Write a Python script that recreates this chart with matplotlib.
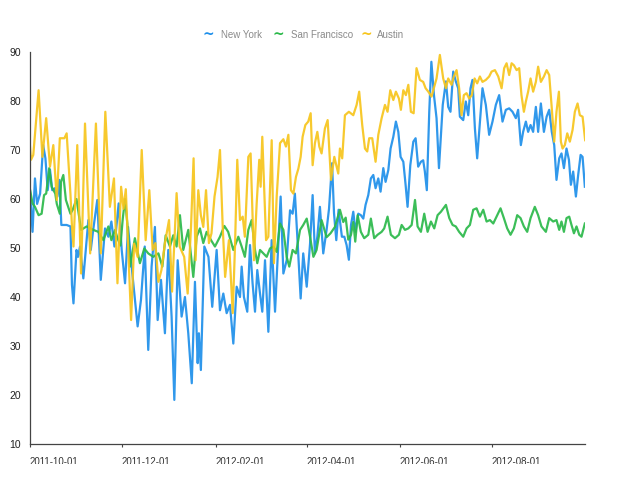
import matplotlib

matplotlib.use("Agg")

import matplotlib.pyplot as plt
import matplotlib.dates as mdates
import numpy as np
import pandas as pd
from matplotlib.transforms import Bbox, TransformedBbox, blended_transform_factory

# (days since 2011-10-01, temperature in F)
new_york = [
    (0, 63.2), (2, 53.3), (3.6, 64.2), (5, 59), (7, 61.1), (9, 71.0), (10.5, 68.3), (12, 61.8),
    (13.5, 66), (15, 61.8), (16.8, 62.2), (18.4, 60.5), (19.7, 63.9), (21, 54.7), (24.5, 54.7),
    (27, 54.4), (28, 42.5), (29, 38.7), (31, 49.6), (32, 48.2), (33.3, 50.3), (35.5, 43.8),
    (38.8, 55.7), (40.4, 49.6), (42, 53.7), (44.7, 59.8), (47, 43.5), (49.8, 54), (52, 52.3),
    (54, 55.4), (56, 50.3), (58.8, 59.1), (60.8, 49.6), (63, 42.8), (65, 54.3), (67.8, 44.8),
    (71.3, 34), (73.5, 39.4), (76, 50.3), (78.3, 29.2), (80.5, 46.2), (82.7, 54.3), (84.5, 35.3),
    (86.7, 43.5), (89.3, 32.6), (91.5, 49.6), (93.7, 36), (95.5, 19), (97.7, 47.5), (100.3, 36),
    (102.5, 40), (104.7, 32.6), (107, 22.4), (109.1, 43.1), (110.9, 26.5), (111.7, 32.6),
    (113, 25.1), (115.3, 50.3), (118, 48.2), (120.5, 38), (123.4, 49.6), (125.6, 37.3),
    (127.8, 40.7), (130, 36.7), (132.2, 38.4), (134.4, 30.5), (136.6, 42.1), (138.8, 40),
    (139.9, 46.2), (141.4, 40), (143.6, 37), (145.4, 50.6), (147.1, 42.8), (148.7, 37),
    (150.2, 45.5), (152, 40.7), (153.5, 37), (155.3, 47.5), (157.5, 32.9), (159.7, 51.6),
    (161.9, 37), (164.1, 50.9), (165.6, 60.5), (167.4, 44.8), (169.6, 47.5), (171.8, 57.7),
    (173.5, 57), (175, 61.1), (176.6, 52.3), (178.8, 39.7), (180.5, 48.9), (182.8, 42.1),
    (185, 50.9), (186.7, 60.8), (188.2, 48.9), (189.8, 52.3), (191.5, 58.4), (193.7, 48.9),
    (195.9, 53.7), (197.5, 58), (199.5, 67.3), (200.8, 57.1), (202.3, 51.6), (203.8, 57.8),
    (206, 52.3), (207.6, 52.3), (209.1, 50.6), (210.6, 47.6), (212, 54.7), (213.5, 57.4),
    (215, 53.3), (216.8, 57), (218.5, 56.7), (220.1, 56), (221.6, 58.8), (223.4, 60.8),
    (225.1, 64.2), (226.7, 64.9), (228.2, 62.2), (230, 64.2), (231.5, 61.5), (233.3, 66.3),
    (234.8, 63.5), (236.6, 65.9), (238.1, 70.3), (239.9, 72.7), (241.6, 75.8), (243.2, 73.7),
    (244.7, 68.6), (246.5, 67.6), (248, 62.9), (249.3, 58.4), (251.1, 66.9), (253.1, 71.7),
    (254.6, 72.4), (256.3, 66.6), (258.1, 67.6), (259.6, 67.9), (260.7, 65.6), (262, 61.8),
    (263.6, 77.8), (265, 88), (266.7, 81.2), (268.4, 76.5), (270, 66.3), (272.5, 79.2),
    (274.6, 84), (276.1, 78.8), (277.6, 77.8), (279.4, 86), (281.1, 84), (282.7, 82.6),
    (283.8, 76.8), (286, 76.1), (287.7, 79.9), (289.3, 77.1), (290.8, 82.6), (292.1, 84.3),
    (293.7, 74.4), (295.2, 68.3), (297, 75.8), (298.7, 82.6), (300.9, 79.2), (303.1, 73.1),
    (305.3, 75.8), (307.5, 79.2), (309.7, 81.2), (311.9, 75.8), (314.1, 78.2), (316.3, 78.5),
    (318.5, 77.8), (320.7, 76.5), (322.2, 78.2), (324, 71), (325.5, 73.7), (327.3, 75.8),
    (328.8, 73.7), (330.4, 75.1), (332.1, 73.7), (333.9, 78.8), (335.4, 73.7), (337.2, 79.5),
    (339.2, 73.7), (341, 76.8), (342.7, 78.2), (344.4, 73.7), (346, 71), (347.5, 63.9),
    (349.3, 68.3), (350.8, 69.3), (352.4, 66.3), (354.1, 70.3), (355.7, 68), (357, 62.9),
    (358.5, 65.6), (360.3, 60.5), (361.8, 64.9), (363.4, 69), (364.7, 68.6), (366.2, 62.5),
]

san_francisco = [
    (0, 62.5), (2, 59.1), (3.6, 58.4), (6, 56.7), (8, 57), (9.6, 60.8), (11, 61.1), (13, 66.3),
    (14.6, 62.5), (17, 61.1), (18, 59), (20, 57), (20.8, 63.5), (22.3, 64.9), (24, 59.8),
    (27, 57), (28.5, 57.8), (31, 60), (34, 53.7), (37.7, 54.4), (42, 53.7), (45.4, 53.3),
    (48.7, 51.6), (52, 54.4), (54, 51.6), (56.4, 53.7), (58, 52), (60, 50.5), (61.5, 56),
    (63, 60), (64.5, 55), (66.3, 46.2), (69.5, 52), (72.8, 46.9), (75.7, 49.9), (78.3, 48.9),
    (81.6, 48.2), (85, 48.9), (87.6, 46.2), (89.8, 52.6), (92.6, 50.3), (94.8, 52.6), (97, 50.3),
    (99.2, 56.7), (101.4, 49.6), (104.7, 53.7), (108, 44.1), (110.2, 52.3), (112.4, 54),
    (114.6, 51), (116.8, 53.3), (119.7, 51.6), (122.3, 50.3), (125.6, 52.3), (128.5, 54.5),
    (131, 53.3), (134.4, 49.6), (137.7, 52.3), (139.9, 50.3), (142, 48.2), (144.3, 53.7),
    (146.5, 55.7), (148.7, 49.6), (150.2, 46.9), (152, 49.6), (154.2, 48.9), (156.4, 48.2),
    (158.6, 49.9), (160.8, 50.3), (163, 49.2), (165.2, 55), (167.4, 53.7), (169.6, 48.2),
    (171.3, 46.2), (173.5, 49.6), (175.7, 48.9), (178.4, 53.7), (180.5, 54.7), (182.8, 56),
    (185, 52.3), (187.2, 48.2), (189.3, 49.6), (192.6, 55.7), (195.9, 52.2), (198.5, 53),
    (201.4, 54.3), (204.7, 57.8), (206.9, 55.3), (208.5, 56.2), (210.2, 51.7), (212, 52.7),
    (213.5, 55.3), (214.8, 51.3), (216.4, 56.7), (218.5, 53.3), (220.7, 52), (223.4, 52.7),
    (225.1, 56), (227.3, 52), (229.5, 52.7), (232.2, 53.3), (233.9, 54), (236.1, 56.4),
    (238.3, 52.7), (241, 52), (243.6, 52.7), (245.4, 54.7), (247.6, 53.7), (249.8, 54),
    (252, 54.7), (254.2, 59.8), (255.9, 54.4), (258.1, 53.3), (260.3, 57), (262.5, 53.3),
    (264.7, 55.4), (266.9, 54), (269.1, 56.7), (271.3, 57.4), (274.6, 58.8), (276.8, 56.1),
    (279, 54.7), (281.1, 54.4), (283.3, 53.3), (286, 52.3), (288.2, 54), (290.4, 54.7),
    (292.6, 57.8), (294.8, 58.1), (297, 56.4), (299.2, 57.8), (301.4, 55.4), (303.6, 55.7),
    (305.8, 55), (308, 56.4), (310.6, 58.1), (312.8, 56.1), (315, 54), (317.2, 52.7),
    (319.4, 54), (321.6, 56.7), (323.8, 56.1), (326, 54.4), (328.2, 53.3), (330.4, 56.1),
    (333.2, 58.4), (335.4, 56.7), (337.6, 54.4), (340.5, 53.3), (342.7, 56.1), (345.3, 55.4),
    (347.5, 55.7), (349.3, 53.7), (350.8, 55.4), (352.4, 53.3), (354.1, 56.1), (355.9, 56.4),
    (357.4, 54.7), (359, 53), (360.7, 54.4), (362.5, 52.7), (364, 52.3), (366.2, 55),
]

austin = [
    (0, 72), (1, 68), (2.5, 69), (6, 82.2), (8.5, 68.6), (11, 76.5), (13.5, 66.6), (15.7, 71),
    (18, 59.8), (20, 72.4), (23, 72.4), (24.5, 73.4), (27, 61), (28, 54.4), (29, 50.3),
    (31.5, 71), (34, 44.8), (36.6, 75.4), (40, 48.9), (43.8, 75.4), (47, 48.9), (50, 77.8),
    (53, 58.4), (55.7, 64.2), (58, 42.8), (60.4, 62.5), (62, 58), (63.5, 62), (67, 35.3),
    (69, 50.9), (71.3, 48.2), (74, 70), (76.6, 51.6), (79, 61.8), (81.2, 49.6), (83, 51),
    (85, 43.1), (87, 45.5), (89.3, 51), (92, 55.7), (94, 41.1), (97, 61.2), (99, 50.3),
    (102, 48.2), (104.3, 40.7), (106.5, 54.3), (108.2, 68.3), (109.5, 47.5), (111.3, 61.8),
    (113, 56.7), (114.6, 54.3), (116.4, 61.8), (118.3, 51), (120, 53), (122, 60.5), (124, 64.5),
    (125.6, 70), (127.4, 54.3), (129, 44.1), (131.5, 51.6), (134, 36.7), (135.5, 50.3),
    (137, 68), (138.8, 55.7), (140.6, 56.4), (142, 52.3), (144.3, 68.6), (145.8, 69.3),
    (148, 47.5), (149.8, 59.1), (151.5, 68), (152.4, 62.5), (153.5, 72.7), (156, 51.6),
    (157.5, 52.3), (159.7, 72), (161.2, 46.9), (163, 60.5), (165.2, 71.4), (167.4, 72.2),
    (169.1, 70.7), (170.7, 73.1), (172.4, 61.8), (174, 61.1), (175.7, 64.5), (177.3, 66.2),
    (178.8, 68.6), (180.1, 72.7), (181.9, 75.1), (183.8, 75.8), (185.4, 77.5), (186.7, 66.9),
    (188.2, 71.4), (189.8, 73.7), (191.1, 70.7), (192.6, 69.3), (194.8, 74.4), (196.6, 76.1),
    (198.8, 63.9), (201, 68.6), (203.6, 65.2), (204.7, 70.3), (206.2, 68.3), (208, 77.1),
    (210.6, 77.8), (213.5, 77.1), (215.7, 79.2), (217.4, 81.9), (219.4, 75.1), (221.2, 70.3),
    (222.7, 69.7), (224, 72.4), (226, 72.4), (228.2, 67.6), (230, 73.1), (232.2, 76.5),
    (234.4, 79.2), (236.1, 77.8), (237.9, 82.2), (239.9, 80.2), (241.6, 81.9), (243.6, 80.5),
    (244.9, 78.2), (246.5, 82.2), (248.2, 81.2), (249.8, 83.3), (251.5, 77.8), (253.3, 77.5),
    (255.2, 86.7), (257.4, 84.3), (259.6, 83.9), (261.2, 82.6), (263, 81.9), (265.1, 80.9),
    (268.4, 84.6), (270.6, 89.4), (272.8, 84.6), (274.6, 82.6), (276.1, 84.6), (278.3, 83.3),
    (279.8, 85), (281.6, 86.3), (283.3, 82.6), (284.9, 77.1), (286.4, 81.2), (288.2, 81.6),
    (289.9, 80.5), (291.7, 81.2), (293.5, 84.6), (295.2, 83.6), (297, 85), (298.7, 83.9),
    (300.9, 84.3), (303.1, 85), (304.7, 86), (306.9, 86.3), (309.1, 85), (311.3, 82.6),
    (313, 86.7), (314.6, 87.7), (316.3, 85.3), (317.9, 87.7), (319.4, 87.3), (321.2, 86.3),
    (322.9, 86.7), (324.4, 81.2), (326, 77.8), (327.3, 79.9), (328.8, 81.9), (330.4, 84.6),
    (332.1, 81.9), (333.9, 83.9), (335.4, 87), (337.2, 83.9), (339.2, 85), (341, 86.3),
    (342.7, 85.3), (344.4, 78.5), (346, 71.7), (347.5, 77.8), (349.1, 81.9), (350.4, 71.7),
    (351.5, 70.3), (353, 71), (354.6, 73.4), (356.3, 71.7), (358.1, 74.1), (359.6, 77.8),
    (361.4, 79.5), (362.9, 77.1), (364.7, 76.8), (366.4, 72),
]

series_names = ["New York", "San Francisco", "Austin"]
series_colors = ["#1E8FEA", "#2BB94A", "#F7C51C"]
tick_dates = ["2011-10-01", "2011-12-01", "2012-02-01", "2012-04-01", "2012-06-01", "2012-08-01"]
y_ticks = [10, 20, 30, 40, 50, 60, 70, 80, 90]

start = pd.Timestamp("2011-10-01")
W, H = 618, 480

plt.rcParams["font.family"] = ["Liberation Sans", "DejaVu Sans"]

fig = plt.figure(figsize=(W / 100, H / 100), dpi=100)
ax = fig.add_axes([29.5 / W, 36 / H, (585 - 29.5) / W, 392 / H])

for name, color, data in zip(series_names, series_colors, [new_york, san_francisco, austin]):
    arr = np.array(data)
    dates = start + pd.to_timedelta(arr[:, 0], unit="D")
    ax.plot(dates, arr[:, 1], color=color, lw=1.6, alpha=0.92, solid_joinstyle="round")

ax.set_xlim(start, start + pd.Timedelta(days=366.3))
ax.set_ylim(10, 90)
ax.set_yticks(y_ticks)
ax.tick_params(axis="y", length=0, pad=6, labelsize=7.5, labelcolor="#222222")

tick_ts = [pd.Timestamp(d) for d in tick_dates]
ax.set_xticks(tick_ts)
ax.set_xticklabels([])
ax.tick_params(axis="x", length=2.5, width=0.8, color="#444444", direction="out")

for side in ["top", "right"]:
    ax.spines[side].set_visible(False)
for side in ["left", "bottom"]:
    ax.spines[side].set_color("#444444")
    ax.spines[side].set_linewidth(0.9)

# date labels are cut off by the bottom edge in the reference
clip = TransformedBbox(Bbox.from_extents(0, 16 / H, 1, 1), fig.transFigure)
trans = blended_transform_factory(ax.transData, fig.transFigure)
for ts, lbl in zip(tick_ts, tick_dates):
    t = fig.text(mdates.date2num(ts), 1 - 457 / H, lbl, transform=trans, ha="left", va="top",
                 fontsize=7, color="#333333")
    t.set_clip_on(True)
    t.set_clip_box(clip)

# legend across the top
legend_items = [(208, 221, "New York"), (278, 291, "San Francisco"), (366, 377, "Austin")]
for (ix, tx, name), color in zip(legend_items, series_colors):
    fig.text(ix / W, 1 - 35 / H, "~", color=color, fontsize=10, fontweight="bold",
             ha="center", va="center", family="DejaVu Sans")
    fig.text(tx / W, 1 - 35 / H, name, color="#8a8a8a", fontsize=7, ha="left", va="center")

fig.savefig("out.png", dpi=100)
plt.close(fig)
